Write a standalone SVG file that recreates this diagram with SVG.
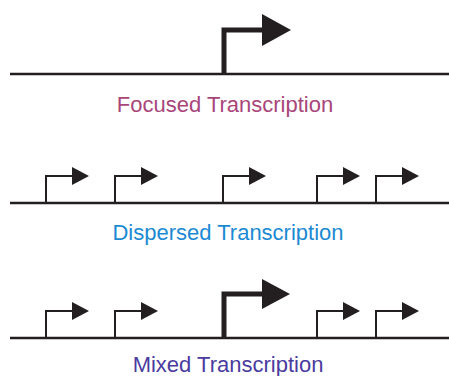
<svg xmlns="http://www.w3.org/2000/svg" width="449" height="376" viewBox="0 0 449 376">
<defs>
<style>
.base{stroke:#231f20;stroke-width:2.5;fill:none}
.small{stroke:#231f20;stroke-width:2;fill:none}
.big{stroke:#231f20;stroke-width:5;fill:none}
.head{fill:#231f20}
.lbl{font-family:"Liberation Sans",Arial,sans-serif;font-size:22px;text-anchor:middle}
</style>
</defs>
<rect width="449" height="376" fill="#fff"/>
<g id="connectors">
<line class="base" x1="10" y1="74" x2="449" y2="74"/>
<line class="base" x1="10" y1="203" x2="449" y2="203"/>
<line class="base" x1="10" y1="338" x2="449" y2="338"/>
</g>
<g id="focused">
<path class="big" d="M224,75 V30 H264"/>
<polygon class="head" points="262,14 291,30 262,46"/>
<text class="lbl" x="225" y="112" fill="#a8467a">Focused Transcription</text>
</g>
<g id="dispersed">
<path class="small" d="M46,203 V176 H74"/><polygon class="head" points="72,167 89,176 72,185"/>
<path class="small" d="M115,203 V176 H143"/><polygon class="head" points="141,167 158,176 141,185"/>
<path class="small" d="M223,203 V176 H251"/><polygon class="head" points="249,167 266,176 249,185"/>
<path class="small" d="M317,203 V176 H345"/><polygon class="head" points="343,167 360,176 343,185"/>
<path class="small" d="M376,203 V176 H404"/><polygon class="head" points="402,167 419,176 402,185"/>
<text class="lbl" x="228" y="240" fill="#1c8ad2">Dispersed Transcription</text>
</g>
<g id="mixed">
<path class="small" d="M46,338 V311 H74"/><polygon class="head" points="72,302 89,311 72,320"/>
<path class="small" d="M115,338 V311 H143"/><polygon class="head" points="141,302 158,311 141,320"/>
<path class="big" d="M224,338 V294 H264"/><polygon class="head" points="262,279 290,294 262,309"/>
<path class="small" d="M317,338 V311 H345"/><polygon class="head" points="343,302 360,311 343,320"/>
<path class="small" d="M376,338 V311 H404"/><polygon class="head" points="402,302 419,311 402,320"/>
<text class="lbl" x="228" y="372" fill="#4a3b9f">Mixed Transcription</text>
</g>
</svg>
